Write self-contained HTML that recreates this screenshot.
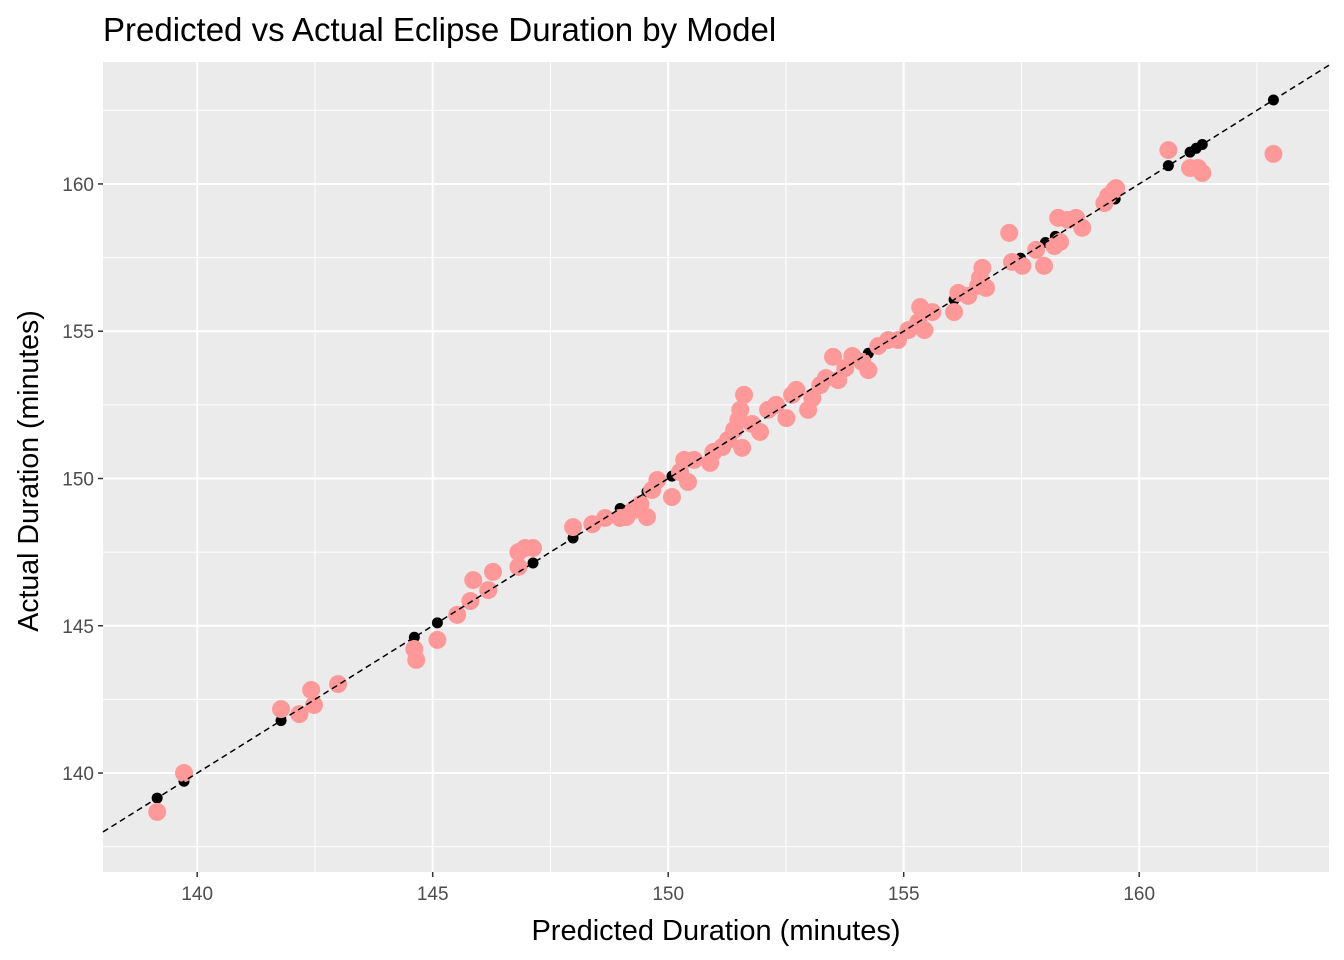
<!DOCTYPE html>
<html><head><meta charset="utf-8"><style>
html,body{margin:0;padding:0;background:#fff;}
svg{display:block;font-family:"Liberation Sans",sans-serif;}
</style></head><body>
<svg id="chart" width="1344" height="960">
<text x="103" y="41" font-size="33" fill="#000">Predicted vs Actual Eclipse Duration by Model</text>
<rect x="103" y="62" width="1226" height="810" fill="#ebebeb"/>
<g id="grid"></g><g id="black"></g><g id="pink"></g><g id="ref"></g><g id="ticks"></g>
<text x="716" y="940" font-size="29" text-anchor="middle" fill="#000">Predicted Duration (minutes)</text>
<text transform="translate(38,471) rotate(-90)" font-size="28.5" text-anchor="middle" fill="#000">Actual Duration (minutes)</text>
</svg>
<script>
const xTicks=[140,145,150,155,160];
const yTicks=[140,145,150,155,160];
const predX=[139.15,139.72,141.78,142.17,142.42,142.48,142.99,144.61,144.65,145.10,145.52,145.80,145.86,146.18,146.28,146.82,146.82,146.96,147.13,147.98,148.39,148.66,148.98,149.11,149.26,149.41,149.55,149.66,149.77,150.08,150.25,150.42,150.34,150.55,150.89,150.96,151.15,151.27,151.40,151.49,151.53,151.57,151.61,151.78,151.95,152.12,152.29,152.51,152.63,152.72,152.97,153.06,153.23,153.35,153.50,153.61,153.76,153.91,154.12,154.25,154.46,154.67,154.88,155.10,155.31,155.35,155.44,155.61,156.07,156.16,156.37,156.58,156.62,156.67,156.75,157.24,157.30,157.52,157.81,157.98,158.20,158.28,158.32,158.49,158.66,158.79,159.26,159.34,159.47,159.51,160.62,161.08,161.25,161.34,162.85];
const actualY=[138.68,140.0,142.17,142.0,142.82,142.31,143.02,144.21,143.84,144.52,145.37,145.84,146.55,146.21,146.83,147.0,147.50,147.64,147.64,148.35,148.45,148.66,148.66,148.69,148.93,149.13,148.69,149.61,149.95,149.37,150.22,149.88,150.63,150.63,150.53,150.90,151.07,151.31,151.65,151.99,152.33,151.04,152.84,151.85,151.58,152.33,152.50,152.05,152.84,153.01,152.33,152.73,153.17,153.41,154.13,153.34,153.75,154.16,153.96,153.68,154.50,154.70,154.70,155.04,155.31,155.82,155.04,155.65,155.65,156.30,156.20,156.54,156.81,157.15,156.47,158.34,157.35,157.22,157.76,157.22,157.89,158.85,158.03,158.78,158.85,158.51,159.35,159.59,159.80,159.86,161.15,160.54,160.54,160.37,161.02];
const blackVals=[139.15,139.72,141.78,144.61,145.10,147.13,147.98,148.98,149.55,150.08,151.3,154.25,156.07,157.48,158.01,158.22,159.49,160.62,161.08,161.21,161.34,162.85];
const X0=138.0,X1=164.03,Y0=136.64,Y1=164.14;
const L=103,R=1329,T=62,B=872;
function sx(v){return L+(v-X0)/(X1-X0)*(R-L);}
function sy(v){return B-(v-Y0)/(Y1-Y0)*(B-T);}
const NS="http://www.w3.org/2000/svg";
function mk(tag,parent,attrs){const e=document.createElementNS(NS,tag);for(const k in attrs)e.setAttribute(k,attrs[k]);parent.appendChild(e);return e;}
const grid=document.getElementById('grid'),ticks=document.getElementById('ticks');
for(const t of xTicks){
  const m=t-2.5; if(m>X0){const g=mk('line',grid,{x1:sx(m),x2:sx(m),y1:T,y2:B,stroke:'#fff','stroke-width':1});
  
  }
  const l=mk('line',grid,{x1:sx(t),x2:sx(t),y1:T,y2:B,stroke:'#fff','stroke-width':2});
  
  
  const tk=mk('line',ticks,{x1:sx(t),x2:sx(t),y1:B,y2:B+5,stroke:'#333','stroke-width':1.5});
  
  
  const tx=mk('text',ticks,{x:sx(t),y:B+28,'font-size':19,'text-anchor':'middle',fill:'#4d4d4d'});tx.textContent=t;
  
  
}
{const m=162.5;const g=mk('line',grid,{x1:sx(m),x2:sx(m),y1:T,y2:B,stroke:'#fff','stroke-width':1});

}
for(const t of yTicks){
  for(const m of [t-2.5]){const g=mk('line',grid,{x1:L,x2:R,y1:sy(m),y2:sy(m),stroke:'#fff','stroke-width':1});
  
  }
  const l=mk('line',grid,{x1:L,x2:R,y1:sy(t),y2:sy(t),stroke:'#fff','stroke-width':2});
  
  
  const tk=mk('line',ticks,{x1:L-5,x2:L,y1:sy(t),y2:sy(t),stroke:'#333','stroke-width':1.5});
  
  
  const tx=mk('text',ticks,{x:L-9,y:sy(t)+7,'font-size':19,'text-anchor':'end',fill:'#4d4d4d'});tx.textContent=t;
  
  
}
{const m=162.5;const g=mk('line',grid,{x1:L,x2:R,y1:sy(m),y2:sy(m),stroke:'#fff','stroke-width':1});

}
const black=document.getElementById('black');
for(const v of blackVals){const c=mk('circle',black,{cx:sx(v),cy:sy(v),r:5.5,fill:'#000'});

}
const pink=document.getElementById('pink');
for(let i=0;i<predX.length;i++){const c=mk('circle',pink,{cx:sx(predX[i]),cy:sy(actualY[i]),r:9,fill:'#ff9999'});

}
const ref=document.getElementById('ref');
const ln=mk('line',ref,{x1:sx(X0),y1:sy(X0),x2:sx(X1),y2:sy(X1),stroke:'#000','stroke-width':1.5,'stroke-dasharray':'6,4'});


</script>
</body></html>
